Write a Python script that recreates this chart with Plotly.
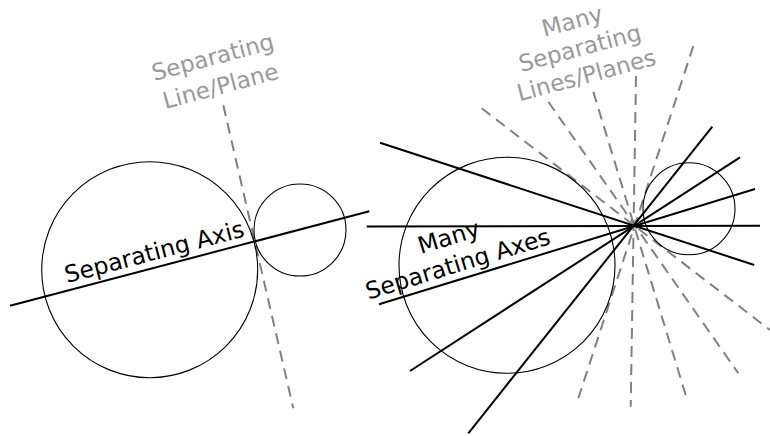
import math
import plotly.graph_objects as go

W, H = 770, 436

# Circles: centre x, centre y, radius (pixel-like diagram coordinates, y downward)
circle_cx = [149.7, 300.0, 507.0, 689.0]
circle_cy = [269.7, 230.0, 265.3, 208.8]
circle_r = [108.0, 46.0, 108.0, 46.0]

# Solid separating axes: endpoints
axis_x0 = [10.0, 380.0, 366.7, 379.0, 410.0, 468.3]
axis_y0 = [305.7, 142.7, 226.5, 304.3, 371.0, 433.3]
axis_x1 = [369.3, 754.3, 760.0, 755.0, 740.0, 712.3]
axis_y1 = [211.3, 265.0, 225.7, 189.0, 157.3, 126.7]

# Dashed separating lines/planes: endpoints
plane_x0 = [223.3, 481.7, 548.3, 593.3, 636.0, 693.3]
plane_y0 = [105.3, 108.3, 101.7, 91.7, 76.0, 46.0]
plane_x1 = [293.3, 770.0, 738.3, 686.7, 630.7, 578.3]
plane_y1 = [408.3, 330.0, 373.3, 398.3, 406.7, 398.3]

# Labels (each a list of text lines)
label_lines = [["Separating Axis"],
               ["Separating", "Line/Plane"],
               ["Many", "Separating Axes"],
               ["Many", "Separating", "Lines/Planes"]]
label_x = [154.0, 216.5, 453.5, 579.5]
label_y = [252.0, 71.5, 250.8, 48.0]
label_angle = [-14.7, -15.0, -17.0, -15.0]
label_color = ["#000000", "#999999", "#000000", "#999999"]
label_size = [23.5, 23, 23.5, 23]
label_gap = [0, 29.5, 28.5, 28.0]

fig = go.Figure()

for i in range(len(plane_x0)):
    fig.add_trace(go.Scatter(
        x=[plane_x0[i], plane_x1[i]], y=[plane_y0[i], plane_y1[i]],
        mode="lines", line=dict(color="#808080", width=2, dash="11px,7px"),
        hoverinfo="skip", showlegend=False))

for i in range(len(axis_x0)):
    fig.add_trace(go.Scatter(
        x=[axis_x0[i], axis_x1[i]], y=[axis_y0[i], axis_y1[i]],
        mode="lines", line=dict(color="#000000", width=2),
        hoverinfo="skip", showlegend=False))

for cx, cy, r in zip(circle_cx, circle_cy, circle_r):
    fig.add_shape(type="circle", xref="x", yref="y",
                  x0=cx - r, x1=cx + r, y0=cy - r, y1=cy + r,
                  line=dict(color="#000000", width=1.1), layer="above")

for lines, x, y, a, c, s, g in zip(label_lines, label_x, label_y, label_angle,
                                   label_color, label_size, label_gap):
    nx, ny = math.sin(math.radians(-a)), math.cos(math.radians(-a))
    n = len(lines)
    for k, t in enumerate(lines):
        off = (k - (n - 1) / 2) * g
        fig.add_annotation(text=t, x=x + off * nx, y=y + off * ny, xref="x", yref="y",
                           showarrow=False, textangle=a,
                           font=dict(family="DejaVu Sans", size=s, color=c))

fig.update_layout(
    width=W, height=H, margin=dict(l=0, r=0, t=0, b=0),
    paper_bgcolor="white", plot_bgcolor="white", showlegend=False,
    xaxis=dict(range=[0, W], visible=False, showgrid=False, zeroline=False, fixedrange=True),
    yaxis=dict(range=[H, 0], visible=False, showgrid=False, zeroline=False, fixedrange=True),
)

fig.write_html("out.html", config={"displayModeBar": False},
               post_script="document.body.style.margin='0';document.body.style.overflow='hidden';")
